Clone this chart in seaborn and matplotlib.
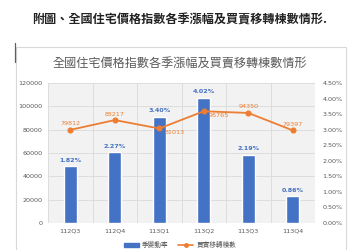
import matplotlib
matplotlib.use("Agg")
import matplotlib.pyplot as plt
import seaborn as sns
import pandas as pd
from matplotlib.patches import Rectangle
from matplotlib.lines import Line2D
from matplotlib.ticker import FuncFormatter, MultipleLocator

quarters = ["112Q3", "112Q4", "113Q1", "113Q2", "113Q3", "113Q4"]
change_pct = [1.82, 2.27, 3.40, 4.02, 2.19, 0.86]
transfers = [79812, 88217, 81013, 95765, 94350, 79397]
page_title = "附圖、全國住宅價格指數各季漲幅及買賣移轉棟數情形."
chart_title = "全國住宅價格指數各季漲幅及買賣移轉棟數情形"
bar_name = "季變動率"
line_name = "買賣移轉棟數"

sns.set_theme(style="white")
plt.rcParams['font.family'] = ['Noto Sans CJK TC', 'DejaVu Sans']

BLUE = "#4472C4"
ORANGE = "#ED7D31"

df = pd.DataFrame({"q": quarters, "pct": change_pct, "n": transfers})

fig = plt.figure(figsize=(3.6, 2.5), dpi=100)
fig.patch.set_facecolor("white")

# chart box
fig.add_artist(Rectangle((16/360, -0.05), (346-16)/360, (250-47)/250 + 0.05,
                         transform=fig.transFigure, fill=False,
                         edgecolor="#d9d9d9", linewidth=0.8))
fig.add_artist(Line2D([15/360, 15/360], [1-43/250, 1-62/250],
                      transform=fig.transFigure, color="#606060", linewidth=0.9))

fig.text(0.5, 1-20/250, page_title, ha="center", va="center",
         fontsize=8.7, fontweight="bold", color="#222222")
fig.text(0.5, 1-64/250, chart_title, ha="center", va="center",
         fontsize=8.7, color="#595959")

ax = fig.add_axes([48/360, 27/250, (315-48)/360, (223-83)/250])
ax.set_facecolor("#f2f2f2")
sns.barplot(data=df, x="q", y="pct", color=BLUE, width=0.3, ax=ax,
            saturation=1, zorder=3)
ax.set_ylim(0, 4.5)
ax.yaxis.set_major_locator(MultipleLocator(0.5))
ax.yaxis.set_major_formatter(FuncFormatter(lambda v, p: f"{v:.2f}%"))
ax.set_xlabel("")
ax.set_ylabel("")

for i, v in enumerate(change_pct):
    ax.text(i, v + 0.12, f"{v:.2f}%", ha="center", va="bottom",
            fontsize=4.6, fontweight="bold", color=BLUE, zorder=5,
            family="DejaVu Sans")

ax2 = ax.twinx()
sns.pointplot(data=df, x="q", y="n", color=ORANGE, ax=ax2,
              markers="o", markersize=3.4, linewidth=1.3)
ax2.set_ylim(0, 120000)
ax2.yaxis.set_major_locator(MultipleLocator(20000))
ax2.set_xlabel("")
ax2.set_ylabel("")

ax.yaxis.tick_right()
ax2.yaxis.tick_left()

offsets = {0: (0, 3000, "center", "bottom"), 1: (0, 3000, "center", "bottom"),
           2: (0.12, -1000, "left", "top"), 3: (0.1, -1200, "left", "top"),
           4: (0, 3000, "center", "bottom"), 5: (0, 3000, "center", "bottom")}
for i, v in enumerate(transfers):
    dx, dy, ha, va = offsets[i]
    ax2.text(i + dx, v + dy, f"{v}", ha=ha, va=va, fontsize=4.6,
             color=ORANGE, family="DejaVu Sans", zorder=6)

# grid on primary (left-count) scale
for yv in range(0, 120001, 20000):
    ax.axhline(yv / 120000 * 4.5, color="#d9d9d9", linewidth=0.6, zorder=1)
for xb in [i - 0.5 for i in range(7)]:
    ax.axvline(xb, color="#d9d9d9", linewidth=0.6, zorder=1)
ax.set_xlim(-0.5, 5.5)

for a in (ax, ax2):
    for s in a.spines.values():
        s.set_visible(False)
    a.tick_params(axis="both", length=0, labelsize=4.6, labelcolor="#595959",
                  pad=2)
    for lbl in a.get_yticklabels() + a.get_xticklabels():
        lbl.set_family("DejaVu Sans")
ax.tick_params(axis="y", pad=5.5)
ax2.tick_params(axis="y", pad=4)
ax.tick_params(axis="x", pad=4)

handles = [Rectangle((0, 0), 1, 1, color=BLUE),
           Line2D([0], [0], color=ORANGE, marker="o", markersize=2.5, linewidth=1.2)]
fig.legend(handles, [bar_name, line_name], loc="center",
           bbox_to_anchor=(0.5, 1-245/250), ncol=2, frameon=False,
           fontsize=4.8, labelcolor="#595959", handlelength=2.2,
           handleheight=0.5, columnspacing=1.5, handletextpad=0.5)

fig.savefig("out.png", dpi=100, facecolor="white")
